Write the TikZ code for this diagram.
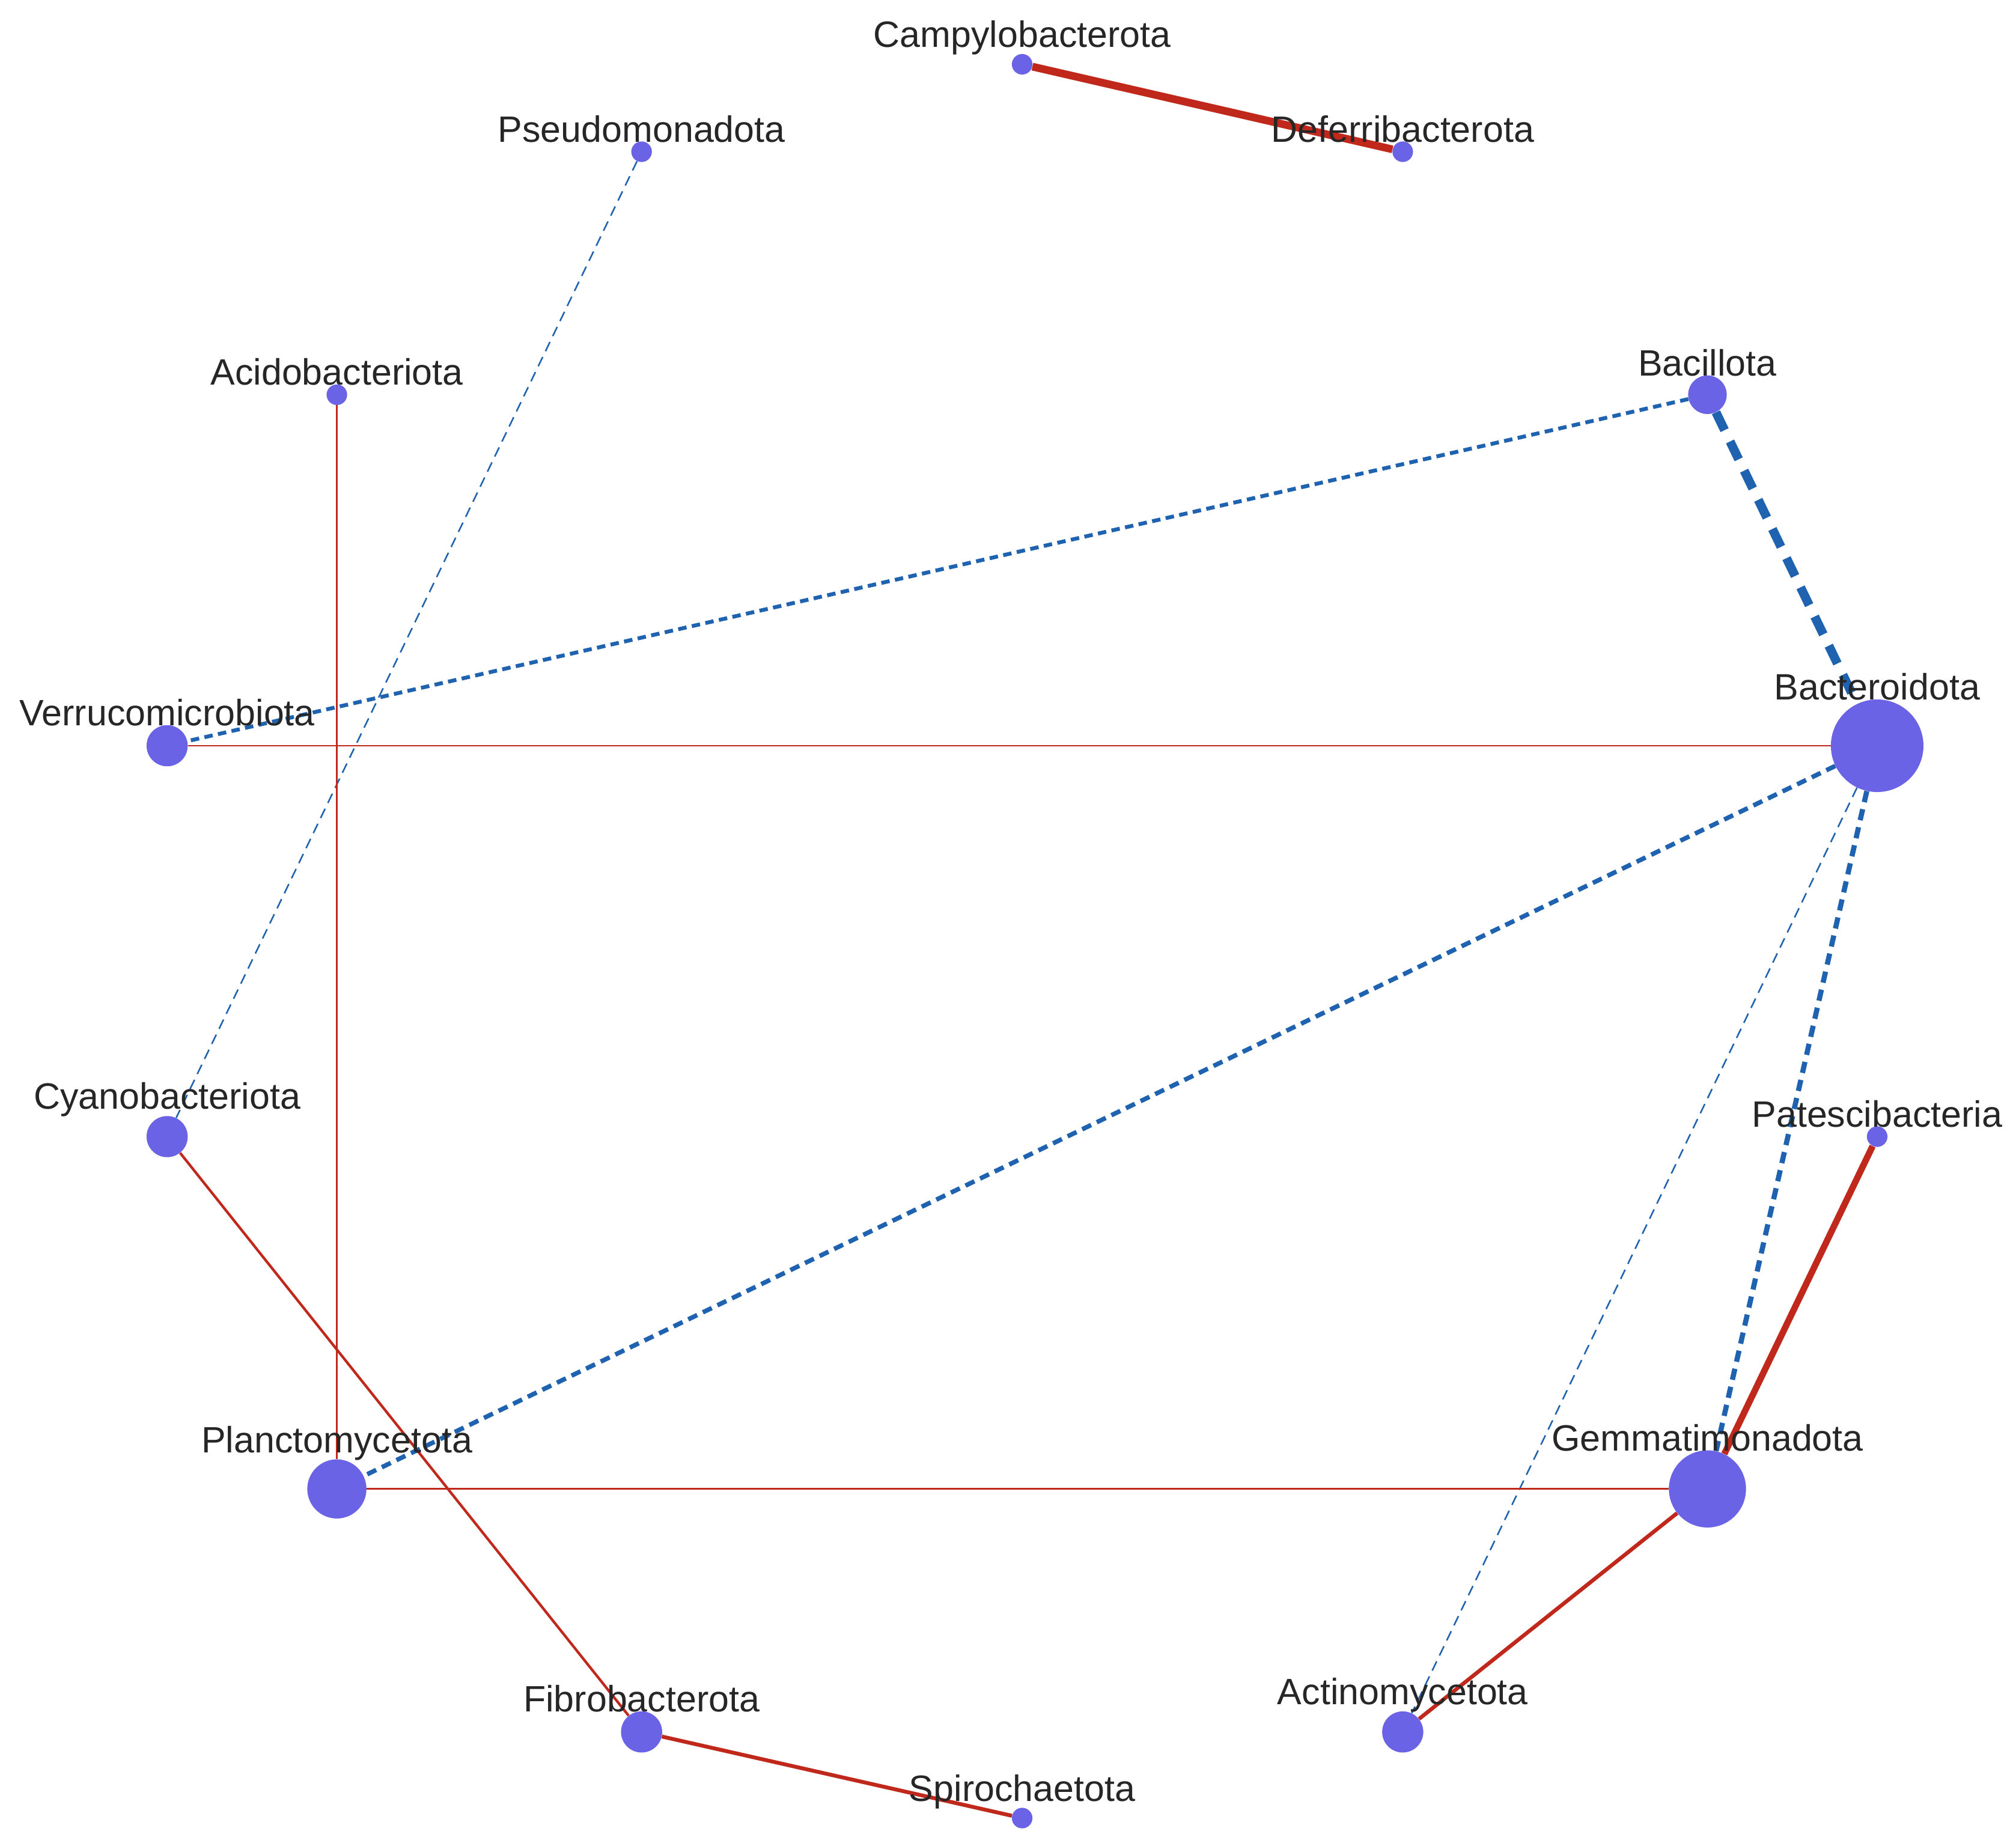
\documentclass[tikz,border=0pt]{standalone}
\usepackage{fontspec}
\setmainfont{Liberation Sans}
\usetikzlibrary{backgrounds}
\definecolor{nodec}{HTML}{6A63E6}
\definecolor{redc}{HTML}{C0281C}
\definecolor{bluec}{HTML}{1F63B0}
\begin{document}
\begin{tikzpicture}[x=1pt,y=-1pt,
  v/.style={circle,fill=nodec,inner sep=0pt,minimum size=#1},
  lab/.style={anchor=south,font=\fontsize{28.5}{28.5}\selectfont,text=black!85,inner sep=0pt},
  pos/.style={draw=redc,line width=#1},
  neg/.style={draw=bluec,line width=#1,dash pattern=on 2.2*#1 off 1.4*#1},
  negthin/.style={draw=bluec,line width=1.2,dash pattern=on 8 off 5}]
\useasboundingbox (0,0) rectangle (1568,1431);
\node[v=16] (campy) at (795,50) {};
\node[v=16] (defer) at (1091,118) {};
\node[v=16] (pseudo) at (499,118) {};
\node[v=16] (acido) at (262,307) {};
\node[v=30] (bacil) at (1328,307) {};
\node[v=72] (bacte) at (1460,580) {};
\node[v=32] (verru) at (130,580) {};
\node[v=32] (cyano) at (130,884) {};
\node[v=16] (pates) at (1460,884) {};
\node[v=46] (planc) at (262,1158) {};
\node[v=60] (gemma) at (1328,1158) {};
\node[v=32] (fibro) at (499,1347) {};
\node[v=32] (actin) at (1091,1347) {};
\node[v=16] (spiro) at (795,1414) {};
\begin{scope}[on background layer]
\draw[pos=6] (campy) -- (defer);
\draw[negthin] (pseudo) -- (cyano);
\draw[pos=1.5] (acido) -- (planc);
\draw[neg=3] (bacil) -- (verru);
\draw[neg=7] (bacil) -- (bacte);
\draw[pos=1.2] (verru) -- (bacte);
\draw[neg=3.5] (bacte) -- (planc);
\draw[negthin] (bacte) -- (actin);
\draw[neg=4] (bacte) -- (gemma);
\draw[pos=5] (pates) -- (gemma);
\draw[pos=2] (cyano) -- (fibro);
\draw[pos=1.5] (planc) -- (gemma);
\draw[pos=3] (gemma) -- (actin);
\draw[pos=3] (fibro) -- (spiro);
\end{scope}
\foreach \n/\t in {campy/Campylobacterota,defer/Deferribacterota,pseudo/Pseudomonadota,
  acido/Acidobacteriota,bacil/Bacillota,bacte/Bacteroidota,verru/Verrucomicrobiota,
  cyano/Cyanobacteriota,pates/Patescibacteria,planc/Planctomycetota,gemma/Gemmatimonadota,
  fibro/Fibrobacterota,actin/Actinomycetota,spiro/Spirochaetota}
  \node[lab] (l\n) at ([yshift=-1pt]\n.north) {\t};
\end{tikzpicture}
\end{document}
